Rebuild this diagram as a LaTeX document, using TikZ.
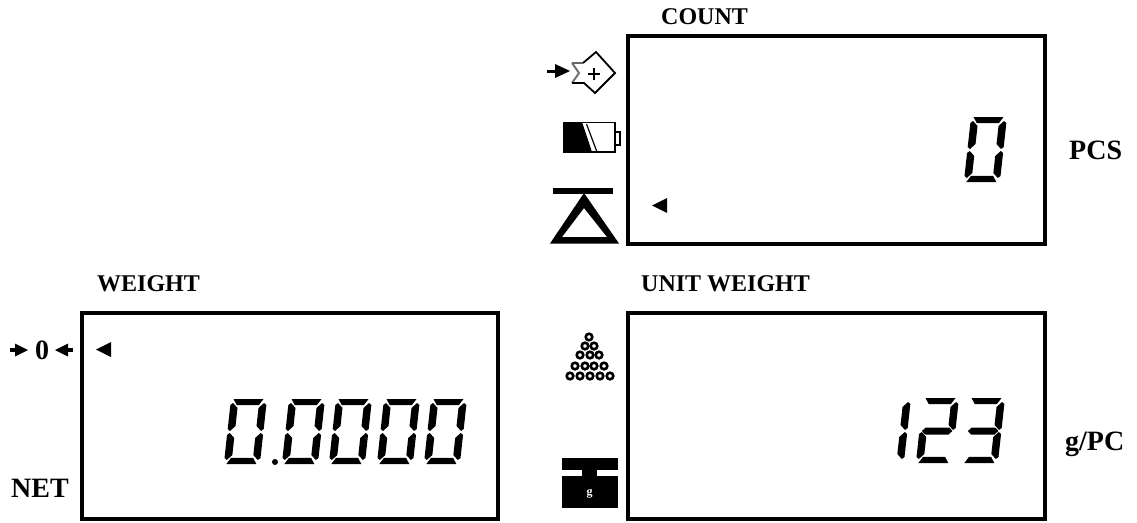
\documentclass[tikz,border=0pt]{standalone}
\usepackage{fontspec}
\setmainfont{Liberation Serif}
\newcommand{\segA}{\fill (3,0) -- (33,0) -- (29,6.2) -- (7,6.2) -- cycle;}
\newcommand{\segG}{\fill (6.5,29.5) -- (30,29.5) -- (33.5,33) -- (30,36.5) -- (6.5,36.5) -- (3,33) -- cycle;}
\newcommand{\segD}{\fill (3,65) -- (33,65) -- (29,58.8) -- (7,58.8) -- cycle;}
\newcommand{\segF}{\fill (0.5,6) -- (3,4) -- (8,9) -- (8,27) -- (3,32) -- (0.5,30) -- cycle;}
\newcommand{\segB}{\fill (36.5,6) -- (36.5,30) -- (34,32) -- (29,27) -- (29,9) -- (34,4) -- cycle;}
\newcommand{\segE}{\fill (0.5,36) -- (3,34) -- (8,39) -- (8,56) -- (3,61) -- (0.5,59) -- cycle;}
\newcommand{\segC}{\fill (36.5,36) -- (34,34) -- (29,39) -- (29,56) -- (34,61) -- (36.5,59) -- cycle;}
\newcommand{\digitat}[3]{\begin{scope}[cm={1,0,0.11,1,(#1,#2)}]#3\end{scope}}
\newcommand{\dzero}{\segA\segB\segC\segD\segE\segF}
\tikzset{
  lcd/.style={draw=black,line width=3.6pt,fill=white},
  lab/.style={font=\fontsize{24}{24}\selectfont\bfseries,inner sep=0,anchor=base west},
  labb/.style={font=\fontsize{28}{28}\selectfont\bfseries,inner sep=0,anchor=base west},
  thin ring/.style={draw=black,line width=2.6pt,fill=white}
}
\begin{document}
\begin{tikzpicture}[x=1pt,y=-1pt]
\useasboundingbox (0,0) rectangle (1137,522);
% frames
\draw[lcd] (628,36) rectangle (1045,244);
\draw[lcd] (82,313) rectangle (498,519);
\draw[lcd] (628,313) rectangle (1045,519);
% labels
\node[lab] (count) at (661,24) {COUNT};
\node[lab] (weight) at (97,291) {WEIGHT};
\node[lab] (unit) at (641,291) {UNIT WEIGHT};
\node[labb] (pcs) at (1069,159) {PCS};
\node[labb] (net) at (11,497) {NET};
\node[labb] (gpc) at (1065,450) {g/PC};
\node[labb] (zero) at (35,359) {0};
% indicators
\fill (652,205.5) -- (667,198) -- (667,213) -- cycle;
\fill (96,349.5) -- (111,342) -- (111,357) -- cycle;
% zero arrows
\fill (10,348) rectangle (17,352);
\fill (28,350) -- (15,343.5) -- (15,356.5) -- cycle;
\fill (66,348) rectangle (73,352);
\fill (55,350) -- (68,343.5) -- (68,356.5) -- cycle;
% sum icon
\fill (547,69.5) rectangle (560,73);
\fill (570,71) -- (555,64) -- (555,78) -- cycle;
\draw[line width=2pt,draw=black!55] (572,63) -- (579,73) -- (572,83);
\draw[line width=1.5pt,draw=black!60] (572,63) -- (583,63);
\draw[line width=1.8pt,line join=miter] (583,63) -- (596,52) -- (615,73) -- (595,93) -- (584,83) -- (572,83);
\draw[line width=1.3pt] (594,68) -- (594,80) (588,74) -- (600,74);
% battery
\draw[line width=1.5pt] (563.5,122.5) rectangle (615,152);
\draw[line width=1.2pt] (615,132) rectangle (620,145);
\fill (563,122) -- (582,122) -- (592,152) -- (563,152) -- cycle;
\draw[line width=1.2pt] (586.5,124) -- (597,152);
% balance
\fill (553,188) rectangle (613,193.5);
\fill[even odd rule] (584,193) -- (619,243.5) -- (550,243.5) -- cycle (584,208) -- (607,237) -- (562,237) -- cycle;
% pyramid
\foreach \x/\y in {589/337,585/346,594/346,580/355,590/355,599/355,575/366,585/366,594/366,604/366,570/376,580/376,590/376,600/376,610/376}
  \draw[thin ring] (\x,\y) circle (3.3);
% weight icon
\fill (562,458) rectangle (618,470);
\fill (582,470) rectangle (597,476);
\fill (562,476) rectangle (618,508);
\node[font=\fontsize{12}{12}\selectfont\bfseries,text=white,inner sep=0] (gmark) at (589.5,494) {g};
% digits
\digitat{970.5}{117}{\dzero}
\digitat{230.5}{399}{\dzero}
\digitat{288.5}{399}{\dzero}
\digitat{335.5}{399}{\dzero}
\digitat{383.5}{399}{\dzero}
\digitat{430.5}{399}{\dzero}
\fill (275,462) circle (3);
\digitat{874.5}{398}{\segB\segC}
\digitat{922.5}{398}{\segA\segB\segG\segE\segD}
\digitat{968.5}{398}{\segA\segB\segG\segC\segD}
\end{tikzpicture}
\end{document}
